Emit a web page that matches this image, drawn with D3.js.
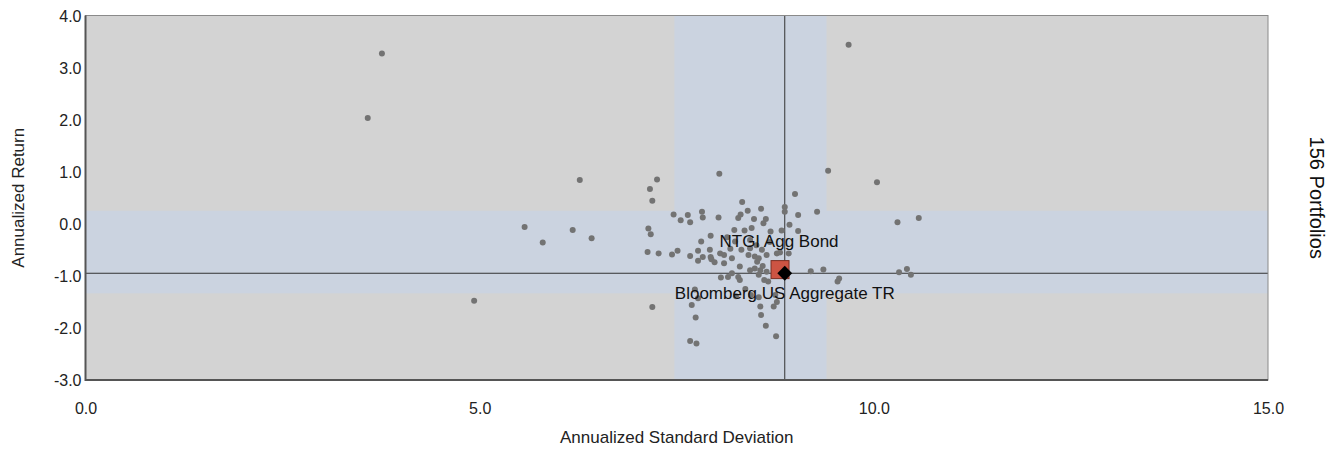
<!DOCTYPE html>
<html><head><meta charset="utf-8">
<script src="https://cdn.jsdelivr.net/npm/d3@7"></script>
<style>
html,body{margin:0;padding:0;background:#fff;}
svg text{font-family:"Liberation Sans",Arial,sans-serif;}
</style></head>
<body><svg id="c" width="1340" height="451"></svg>
<script>
// Portfolio universe: annualized standard deviation (x) and annualized return (y)
const portfolioSD = [3.76,3.58,9.68,6.27,5.57,5.80,6.18,6.42,4.93,9.42,10.04,9.28,10.30,10.57,9.20,9.36,10.32,10.42,10.47,9.56,9.54,9.00,9.04,
7.25,7.16,7.19,8.04,7.46,7.55,7.64,7.67,7.82,7.83,8.03,7.14,7.17,7.93,7.81,7.13,7.27,7.44,7.51,7.67,7.77,7.83,7.92,7.93,8.05,8.10,8.18,8.23,
8.33,8.40,8.31,8.28,8.57,8.87,8.87,8.48,8.63,8.60,8.45,8.69,8.83,8.93,9.04,8.36,8.81,
7.77,7.94,7.98,8.10,8.20,8.20,8.06,8.15,7.73,7.77,7.69,7.19,7.74,7.67,7.75,
8.30,8.41,8.49,8.52,8.43,8.49,8.56,8.59,8.64,8.28,8.30,8.66,8.44,8.54,8.75,8.77,8.73,8.56,8.57,8.63,8.76,8.61,8.54,
8.43,8.58,8.64,8.54,8.32,8.24,8.43,8.51,8.77,8.92,8.25,8.37,8.14,8.68];
const portfolioReturn = [3.27,2.03,3.44,0.84,-0.06,-0.36,-0.12,-0.28,-1.48,1.02,0.80,0.23,0.03,0.11,-0.91,-0.88,-0.93,-0.87,-0.98,-1.05,-1.11,0.57,0.17,
0.85,0.67,0.44,0.96,0.18,0.07,0.17,0.03,0.23,0.12,0.12,-0.09,-0.20,-0.23,-0.34,-0.54,-0.57,-0.59,-0.52,-0.62,-0.52,-0.64,-0.50,-0.64,-0.57,-0.60,-0.48,-0.12,
0.42,0.25,0.18,0.11,0.29,0.32,0.23,0.09,0.09,0.01,-0.08,-0.15,-0.13,-0.02,-0.14,-0.13,-0.55,
-0.71,-0.68,-0.74,-0.76,-0.66,-0.95,-1.03,-1.02,-1.26,-1.43,-1.56,-1.60,-1.80,-2.25,-2.30,
-0.82,-0.60,-0.63,-0.73,-0.89,-0.86,-0.89,-0.81,-0.92,-1.02,-1.08,-1.11,-1.37,-1.41,-1.37,-1.50,-1.59,-1.59,-1.75,-1.96,-2.16,-1.08,-0.98,
-0.47,-0.50,-0.60,-0.66,-0.50,-0.34,-0.31,-0.41,-0.57,-0.57,-1.39,-1.25,-0.26,-0.35];
// Highlighted items
const fundName = "NTGI Agg Bond";
const fundPoint = [8.81, -0.88];
const benchName = "Bloomberg US Aggregate TR";
const benchPoint = [8.87, -0.95];
// Shaded ranges
const sdBand = [7.47, 9.40];
const retBand = [-1.335, 0.25];
// Axes
const xTicks = [0, 5, 10, 15];
const yTicks = [4, 3, 2, 1, 0, -1, -2, -3];
const xTitle = "Annualized Standard Deviation";
const yTitle = "Annualized Return";
const rightTitle = "156 Portfolios";

const fmt = d => d.toFixed(1);
const svg = d3.select("#c");
const L = 85.5, T = 15.5, R = 1268, B = 380;
const x = d3.scaleLinear().domain([0, 15]).range([L, R]);
const y = d3.scaleLinear().domain([-3, 4]).range([B, T]);

svg.append("rect").attr("x", L).attr("y", T).attr("width", R - L).attr("height", B - T).attr("fill", "#d3d3d3");
const bandCol = "#cbd3e0";
svg.append("rect").attr("x", x(sdBand[0])).attr("y", T).attr("width", x(sdBand[1]) - x(sdBand[0])).attr("height", B - T).attr("fill", bandCol);
svg.append("rect").attr("x", L).attr("y", y(retBand[1])).attr("width", R - L).attr("height", y(retBand[0]) - y(retBand[1])).attr("fill", bandCol);

// crosshair at benchmark
svg.append("line").attr("x1", x(benchPoint[0])).attr("x2", x(benchPoint[0])).attr("y1", T).attr("y2", B).attr("stroke", "#333").attr("stroke-width", 1);
svg.append("line").attr("x1", L).attr("x2", R).attr("y1", y(benchPoint[1])).attr("y2", y(benchPoint[1])).attr("stroke", "#333").attr("stroke-width", 1);

// points
svg.append("g").selectAll("circle").data(d3.range(portfolioSD.length)).join("circle")
  .attr("cx", i => x(portfolioSD[i])).attr("cy", i => y(portfolioReturn[i])).attr("r", 3)
  .attr("fill", "#737373");

// frame
svg.append("rect").attr("x", L).attr("y", T).attr("width", R - L).attr("height", B - T).attr("fill", "none").attr("stroke", "#8a8a8a").attr("stroke-width", 1);
svg.append("line").attr("x1", L).attr("x2", L).attr("y1", T).attr("y2", B + 1).attr("stroke", "#555").attr("stroke-width", 2);
svg.append("line").attr("x1", L).attr("x2", R).attr("y1", B).attr("y2", B).attr("stroke", "#555").attr("stroke-width", 2);

// fund square
const sq = 18;
svg.append("rect").attr("x", x(fundPoint[0]) - sq / 2).attr("y", y(fundPoint[1]) - sq / 2).attr("width", sq).attr("height", sq)
  .attr("fill", "#cd5443").attr("stroke", "#7a2e22").attr("stroke-width", 1);
// benchmark diamond
svg.append("path").attr("transform", `translate(${x(benchPoint[0])},${y(benchPoint[1])}) rotate(45)`)
  .attr("d", d3.symbol().type(d3.symbolSquare).size(110)).attr("fill", "#000");

// labels
svg.append("text").attr("x", x(fundPoint[0]) - 1).attr("y", y(fundPoint[1]) - 23).attr("text-anchor", "middle")
  .attr("font-size", 17).attr("fill", "#111").text(fundName);
svg.append("text").attr("x", x(benchPoint[0])).attr("y", y(benchPoint[1]) + 26).attr("text-anchor", "middle")
  .attr("font-size", 17).attr("fill", "#111").text(benchName);

// axes
const ax = d3.axisBottom(x).tickValues(xTicks).tickFormat(fmt).tickSize(0).tickPadding(0);
const gx = svg.append("g").attr("transform", `translate(0,${B})`).call(ax);
gx.select(".domain").remove();
gx.selectAll("text").attr("font-size", 16).attr("fill", "#222").attr("dy", null).attr("y", 34);
const ay = d3.axisLeft(y).tickValues(yTicks).tickFormat(fmt).tickSize(0).tickPadding(0);
const gy = svg.append("g").attr("transform", `translate(${L - 4},0)`).call(ay);
gy.select(".domain").remove();
gy.selectAll("text").attr("font-size", 16).attr("fill", "#222").attr("x", 0).attr("dy", "0.35em");
svg.selectAll(".tick line").remove();
svg.selectAll(".tick text").attr("font-family", "'Liberation Sans',Arial,sans-serif");

svg.append("text").attr("x", (L + R) / 2).attr("y", 443).attr("text-anchor", "middle").attr("font-size", 17).attr("fill", "#222").text(xTitle);
svg.append("text").attr("transform", `translate(24,${(T + B) / 2}) rotate(-90)`).attr("text-anchor", "middle").attr("font-size", 17).attr("fill", "#222").text(yTitle);
svg.append("text").attr("transform", `translate(1310,${(T + B) / 2}) rotate(90)`).attr("text-anchor", "middle").attr("font-size", 20).attr("fill", "#111").text(rightTitle);
</script></body></html>
